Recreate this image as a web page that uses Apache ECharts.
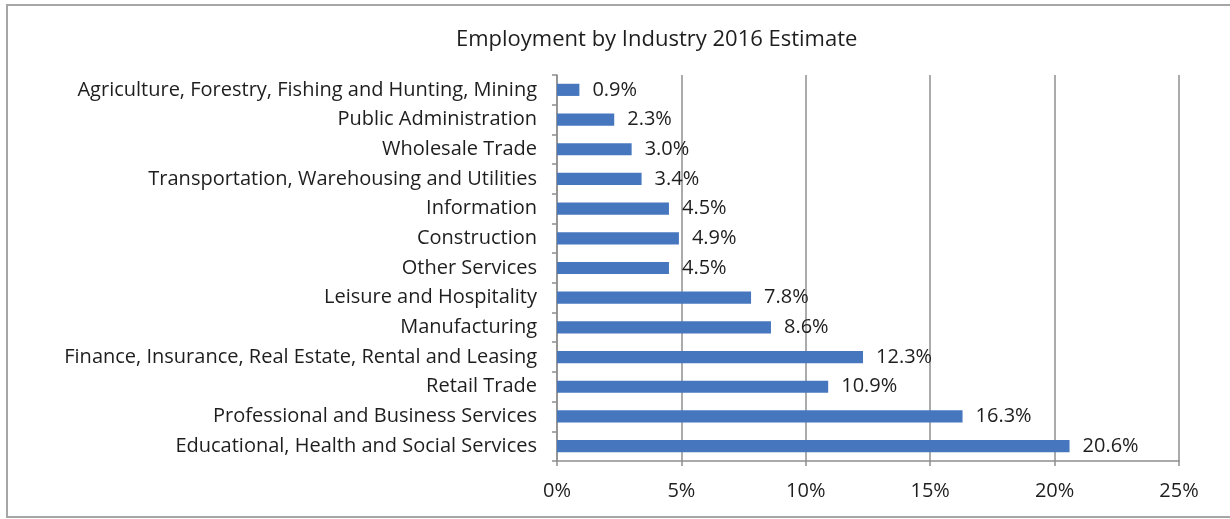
<!DOCTYPE html>
<html>
<head>
<meta charset="utf-8">
<script src="https://cdn.jsdelivr.net/npm/echarts@6/dist/echarts.min.js"></script>
<style>
  html, body { margin: 0; padding: 0; background: #ffffff; }
  #chart { width: 1230px; height: 519px; }
</style>
</head>
<body>
<div id="chart"></div>
<script>
// Industries listed top to bottom
const industries = [
  'Agriculture, Forestry, Fishing and Hunting, Mining',
  'Public Administration',
  'Wholesale Trade',
  'Transportation, Warehousing and Utilities',
  'Information',
  'Construction',
  'Other Services',
  'Leisure and Hospitality',
  'Manufacturing',
  'Finance, Insurance, Real Estate, Rental and Leasing',
  'Retail Trade',
  'Professional and Business Services',
  'Educational, Health and Social Services'
];

// Share of employment, percent
const shares = [0.9, 2.3, 3.0, 3.4, 4.5, 4.9, 4.5, 7.8, 8.6, 12.3, 10.9, 16.3, 20.6];

const chartTitle = 'Employment by Industry 2016 Estimate';

const FONT = '"Open Sans", Lato, sans-serif';
const TEXT = '#1e1e1e';
const GRID = '#8f8f8f';

const chart = echarts.init(document.getElementById('chart'), null, { renderer: 'canvas' });

chart.setOption({
  animation: false,
  backgroundColor: '#ffffff',
  textStyle: { fontFamily: FONT },
  graphic: [{
    type: 'rect',
    shape: { x: 7, y: 5, width: 1240, height: 512 },
    style: { fill: 'none', stroke: '#a6a6a6', lineWidth: 2 },
    silent: true,
    z: -1
  }],
  title: {
    text: chartTitle,
    left: 451,
    top: 24,
    textStyle: { fontFamily: FONT, fontSize: 22, fontWeight: 'normal', color: TEXT }
  },
  grid: { left: 557, right: 51, top: 75, bottom: 58, containLabel: false },
  xAxis: {
    type: 'value',
    min: 0,
    max: 25,
    interval: 5,
    axisLine: { show: true, lineStyle: { color: GRID, width: 1.5 } },
    axisTick: { show: true, length: 5, lineStyle: { color: GRID, width: 1.5 } },
    axisLabel: {
      margin: 20,
      fontFamily: FONT, fontSize: 20, color: TEXT,
      formatter: v => v + '%'
    },
    splitLine: { show: true, lineStyle: { color: GRID, width: 1.5 } }
  },
  yAxis: {
    type: 'category',
    data: industries,
    inverse: true,
    axisLine: { show: true, lineStyle: { color: GRID, width: 1.5 } },
    axisTick: { show: true, length: 5, alignWithLabel: false, lineStyle: { color: GRID, width: 1.5 } },
    axisLabel: { margin: 20, fontFamily: FONT, fontSize: 20, color: TEXT }
  },
  series: [{
    type: 'bar',
    data: shares,
    barCategoryGap: '59%',
    itemStyle: { color: '#4677be' },
    label: {
      show: true,
      position: 'right',
      distance: 13,
      fontFamily: FONT, fontSize: 20, color: TEXT,
      formatter: p => p.value.toFixed(1) + '%'
    }
  }]
});
</script>
</body>
</html>
